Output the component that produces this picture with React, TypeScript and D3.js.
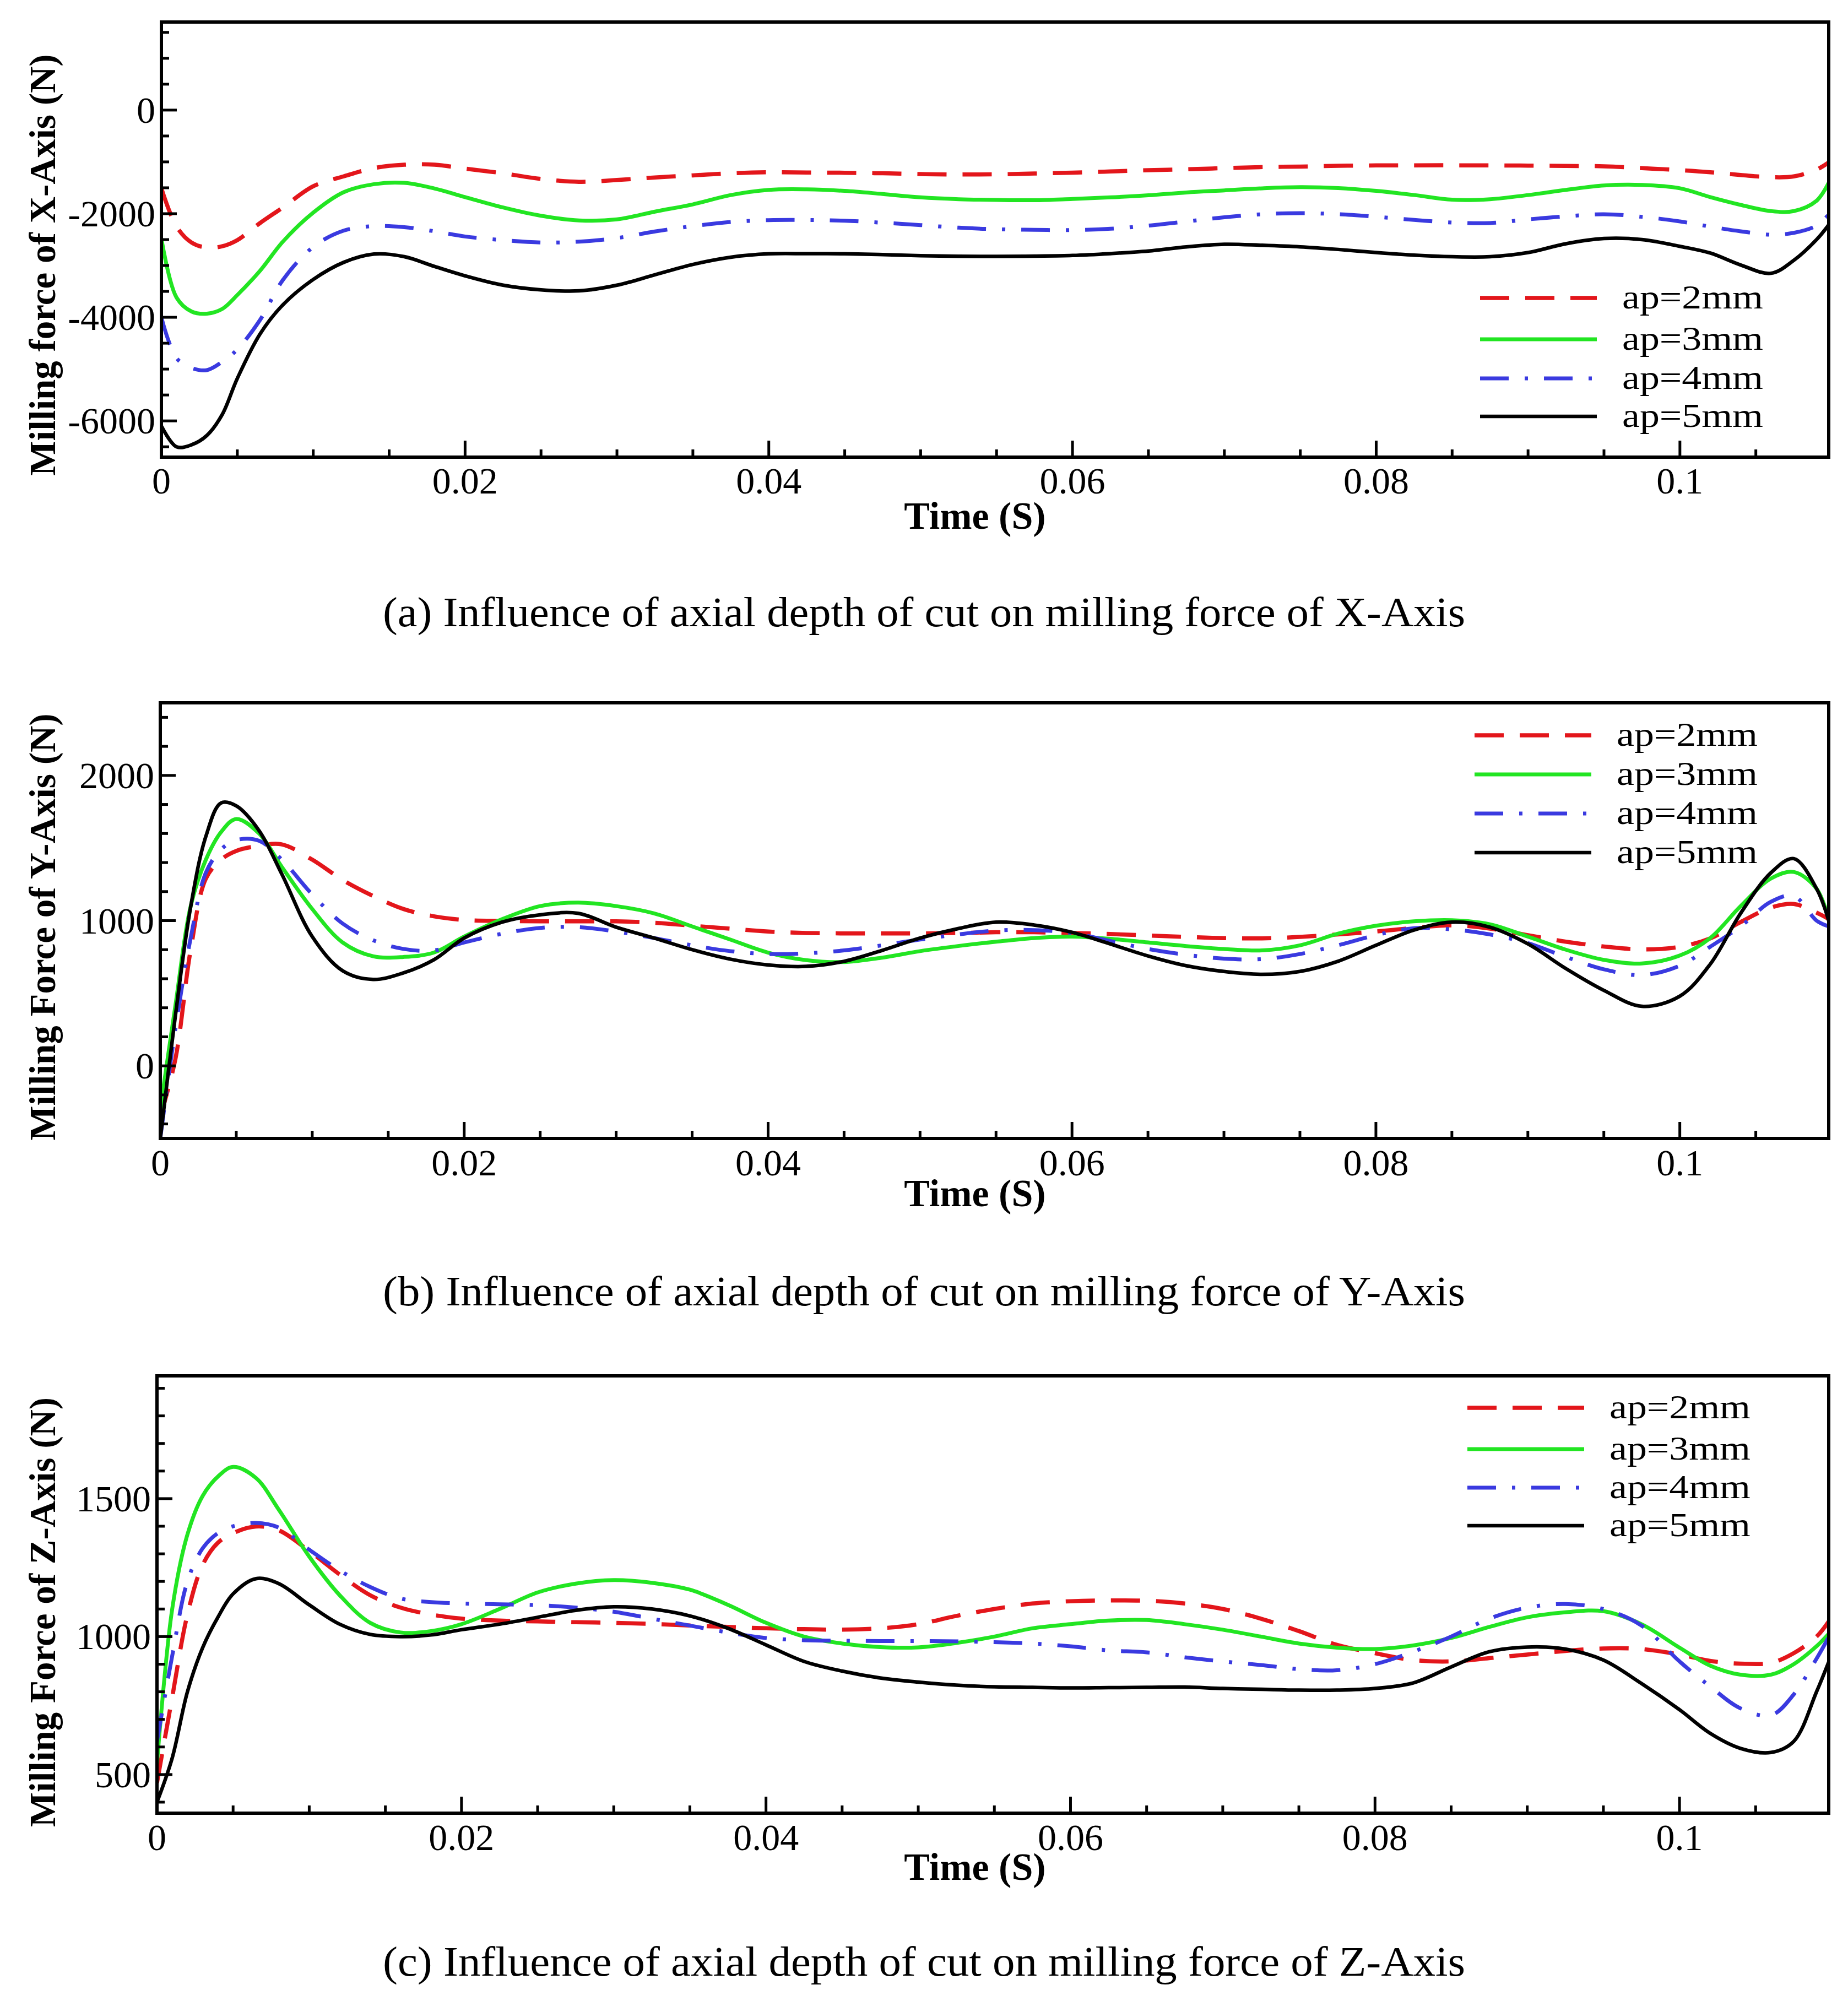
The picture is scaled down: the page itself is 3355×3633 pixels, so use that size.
import React from 'react';
import * as d3 from 'd3';

// shared sampling times (s)
const timeGrid = [
  0, 0.001, 0.002, 0.003, 0.004, 0.005, 0.0065, 0.008, 0.01, 0.012, 0.014, 0.016, 0.018, 0.02,
  0.0225, 0.025, 0.0275, 0.03, 0.0325, 0.035, 0.0375, 0.04, 0.0425, 0.045, 0.0475, 0.05,
  0.0525, 0.055, 0.0575, 0.06, 0.0625, 0.065, 0.0675, 0.07, 0.0725, 0.075, 0.0775, 0.08,
  0.0825, 0.085, 0.0875, 0.09, 0.0925, 0.095, 0.0975, 0.1, 0.102, 0.104, 0.106, 0.1075, 0.109, 0.1098,
];

// (a) X-axis milling force (N)
const xForceAp2 = [
  -1510, -2250, -2560, -2655, -2630, -2510, -2180, -1880, -1470, -1280, -1120, -1055, -1055, -1130,
  -1220, -1330, -1385, -1350, -1300, -1260, -1220, -1200, -1205, -1210, -1220, -1235,
  -1243, -1240, -1225, -1208, -1185, -1160, -1142, -1120, -1100, -1090, -1075, -1068,
  -1066, -1066, -1068, -1072, -1078, -1085, -1120, -1160, -1200, -1253, -1295, -1280, -1150, -1010,
];
const xForceAp3 = [
  -2480, -3620, -3890, -3930, -3840, -3570, -3100, -2540, -1980, -1586, -1430, -1405, -1515, -1680,
  -1880, -2040, -2130, -2110, -1960, -1820, -1640, -1540, -1530, -1560, -1620, -1685,
  -1720, -1735, -1740, -1715, -1685, -1645, -1590, -1550, -1510, -1488, -1505, -1560,
  -1640, -1730, -1720, -1640, -1540, -1455, -1445, -1510, -1680, -1830, -1950, -1950, -1750, -1404,
];
const xForceAp4 = [
  -4000, -4790, -4980, -5020, -4860, -4620, -4050, -3280, -2640, -2327, -2240, -2260, -2340, -2440,
  -2510, -2555, -2540, -2470, -2344, -2240, -2160, -2125, -2122, -2135, -2175, -2220,
  -2270, -2300, -2312, -2316, -2290, -2230, -2150, -2070, -2010, -1990, -2010, -2060,
  -2120, -2170, -2180, -2110, -2050, -2010, -2060, -2150, -2250, -2340, -2405, -2370, -2230, -2015,
];
const xForceAp5 = [
  -6100, -6500, -6460, -6280, -5880, -5180, -4320, -3760, -3270, -2940, -2780, -2830, -3020, -3200,
  -3380, -3470, -3490, -3380, -3180, -2980, -2840, -2775, -2772, -2775, -2790, -2810,
  -2822, -2825, -2818, -2806, -2770, -2720, -2640, -2590, -2610, -2640, -2690, -2750,
  -2800, -2830, -2830, -2750, -2580, -2480, -2500, -2630, -2760, -2990, -3150, -2900, -2500, -2216,
];

// (b) Y-axis milling force (N)
const yForceAp2 = [
  -350, 50, 800, 1290, 1420, 1480, 1515, 1525, 1420, 1280, 1170, 1080, 1030, 1005,
  998, 995, 995, 995, 985, 965, 945, 925, 915, 912, 912, 912,
  915, 920, 920, 915, 908, 898, 888, 880, 878, 888, 905, 925,
  950, 968, 945, 900, 855, 822, 802, 820, 878, 990, 1090, 1115, 1055, 1011,
];
const yForceAp3 = [
  -300, 420, 1100, 1420, 1610, 1700, 1600, 1370, 1080, 850, 755, 750, 780, 890,
  1010, 1100, 1124, 1100, 1050, 960, 870, 780, 728, 715, 745, 790,
  825, 855, 880, 890, 875, 850, 825, 805, 795, 830, 910, 965,
  995, 1003, 975, 890, 800, 730, 705, 760, 880, 1100, 1290, 1335, 1220, 1011,
];
const yForceAp4 = [
  -500, 260, 880, 1330, 1490, 1555, 1550, 1420, 1180, 980, 865, 805, 795, 850,
  910, 950, 955, 925, 880, 830, 790, 770, 775, 795, 830, 870,
  905, 932, 935, 915, 860, 805, 765, 738, 735, 770, 830, 900,
  948, 940, 905, 845, 750, 665, 625, 690, 820, 960, 1130, 1170, 1000, 960,
];
const yForceAp5 = [
  -500, 350, 1095, 1580, 1810, 1790, 1620, 1320, 890, 655, 595, 640, 730, 880,
  990, 1040, 1050, 955, 880, 800, 735, 695, 685, 720, 795, 880,
  945, 990, 970, 920, 840, 757, 690, 650, 630, 650, 720, 830,
  935, 990, 955, 840, 670, 520, 410, 480, 700, 1050, 1330, 1427, 1220, 1000,
];

// (c) Z-axis milling force (N)
const zForceAp2 = [
  470, 780, 1080, 1260, 1340, 1375, 1399, 1385, 1310, 1225, 1150, 1105, 1080, 1065,
  1058, 1055, 1052, 1050, 1046, 1040, 1035, 1030, 1027, 1025, 1030, 1045,
  1075, 1100, 1120, 1128, 1131, 1130, 1120, 1100, 1065, 1020, 970, 940,
  915, 910, 922, 935, 948, 957, 955, 935, 912, 902, 905, 940, 1000, 1055,
];
const zForceAp3 = [
  540, 1100, 1370, 1510, 1580, 1615, 1575, 1460, 1290, 1150, 1050, 1015, 1020, 1045,
  1100, 1160, 1192, 1205, 1195, 1170, 1115, 1050, 1000, 975, 962, 961,
  977, 1000, 1030, 1045, 1058, 1060, 1045, 1025, 1000, 975, 960, 955,
  968, 995, 1035, 1070, 1088, 1092, 1045, 960, 895, 862, 862, 900, 965, 1010,
];
const zForceAp4 = [
  620, 930, 1200, 1320, 1375, 1400, 1412, 1395, 1315, 1240, 1180, 1138, 1125, 1120,
  1117, 1114, 1105, 1090, 1065, 1040, 1015, 995, 987, 985, 984, 984,
  983, 980, 975, 965, 950, 943, 925, 910, 897, 882, 878, 900,
  945, 1000, 1065, 1105, 1118, 1100, 1040, 910, 820, 740, 715, 790, 920, 998,
];
const zForceAp5 = [
  400, 560, 800, 960, 1070, 1155, 1210, 1192, 1115, 1045, 1008, 1000, 1006, 1025,
  1045, 1070, 1095, 1108, 1100, 1075, 1030, 970, 910, 875, 850, 835,
  824, 818, 816, 814, 815, 816, 817, 812, 809, 806, 806, 812,
  832, 890, 945, 962, 955, 915, 830, 735, 650, 595, 580, 620, 800, 908,
];

const seriesLabels = ['ap=2mm', 'ap=3mm', 'ap=4mm', 'ap=5mm'];
const xTickValues = [0, 0.02, 0.04, 0.06, 0.08, 0.1];
const xTickLabels = ['0', '0.02', '0.04', '0.06', '0.08', '0.1'];
const yTicksX = [-6000, -4000, -2000, 0];
const yTicksY = [0, 1000, 2000];
const yTicksZ = [500, 1000, 1500];

const SERIF = '"Liberation Serif", "Times New Roman", Times, serif';
const lineStyles = [
  { color: '#e3161b', dash: '53 29', width: 7.5 },
  { color: '#22e522', dash: undefined, width: 7 },
  { color: '#3a3ae0', dash: '52 29 6 29', width: 7 },
  { color: '#000000', dash: undefined, width: 6.5 },
];

interface PanelProps {
  id: string;
  series: number[][];
  left: number;
  right: number;
  top: number;
  bottom: number;
  yDomain: [number, number];
  yTicks: number[];
  yMinorStep: number;
  yTitle: string;
  yTitleCenter: number;
  tickBaseline: number;
  xTitleBaseline: number;
  caption: string;
  captionBaseline: number;
  legendRows: number[];
  legendX: number;
}

const Panel: React.FC<PanelProps> = (p) => {
  const x = d3.scaleLinear().domain([0, 0.1098]).range([p.left, p.right]);
  const y = d3.scaleLinear().domain(p.yDomain).range([p.bottom, p.top]);
  const line = d3
    .line<number>()
    .x((_, i) => x(timeGrid[i]))
    .y((d) => y(d))
    .curve(d3.curveCatmullRom.alpha(0.5));

  const xMinor = d3.range(0, 0.1098, 0.005).filter((t) => Math.abs(t / 0.02 - Math.round(t / 0.02)) > 1e-6);
  const yStart = Math.ceil(p.yDomain[0] / p.yMinorStep) * p.yMinorStep;
  const yMinor = d3.range(yStart, p.yDomain[1], p.yMinorStep).filter((v) => !p.yTicks.includes(Math.round(v)));

  return (
    <g>
      <defs>
        <clipPath id={`clip-${p.id}`}>
          <rect x={p.left} y={p.top} width={p.right - p.left} height={p.bottom - p.top} />
        </clipPath>
      </defs>

      <g clipPath={`url(#clip-${p.id})`} fill="none" strokeLinejoin="round">
        {p.series.map((vals, i) => (
          <path
            key={i}
            d={line(vals) || ''}
            stroke={lineStyles[i].color}
            strokeWidth={lineStyles[i].width}
            strokeDasharray={lineStyles[i].dash}
          />
        ))}
      </g>

      {/* ticks, pointing inward */}
      <g stroke="#000" strokeWidth={5}>
        {xTickValues.map((t) => (
          <line key={`xm${t}`} x1={x(t)} x2={x(t)} y1={p.bottom} y2={p.bottom - 30} />
        ))}
        {xMinor.map((t) => (
          <line key={`xn${t}`} x1={x(t)} x2={x(t)} y1={p.bottom} y2={p.bottom - 14} />
        ))}
        {p.yTicks.map((v) => (
          <line key={`ym${v}`} x1={p.left} x2={p.left + 28} y1={y(v)} y2={y(v)} />
        ))}
        {yMinor.map((v) => (
          <line key={`yn${v}`} x1={p.left} x2={p.left + 14} y1={y(v)} y2={y(v)} />
        ))}
      </g>

      <rect
        x={p.left}
        y={p.top}
        width={p.right - p.left}
        height={p.bottom - p.top}
        fill="none"
        stroke="#000"
        strokeWidth={6}
      />

      {/* tick labels */}
      <g fontFamily={SERIF} fontSize={68} fill="#000">
        {xTickValues.map((t, i) => (
          <text key={t} x={x(t)} y={p.tickBaseline} textAnchor="middle">
            {xTickLabels[i]}
          </text>
        ))}
        {p.yTicks.map((v) => (
          <text key={v} x={p.left - 11} y={y(v) + 23} textAnchor="end">
            {String(v)}
          </text>
        ))}
      </g>

      {/* axis titles */}
      <text
        x={1770}
        y={p.xTitleBaseline}
        textAnchor="middle"
        fontFamily={SERIF}
        fontWeight="bold"
        fontSize={70}
      >
        Time (S)
      </text>
      <text
        transform={`translate(100, ${p.yTitleCenter}) rotate(-90)`}
        textAnchor="middle"
        fontFamily={SERIF}
        fontWeight="bold"
        fontSize={67}
      >
        {p.yTitle}
      </text>

      {/* legend */}
      <g>
        {seriesLabels.map((label, i) => (
          <g key={label}>
            <line
              x1={p.legendX}
              x2={p.legendX + 212}
              y1={p.legendRows[i]}
              y2={p.legendRows[i]}
              stroke={lineStyles[i].color}
              strokeWidth={lineStyles[i].width}
              strokeDasharray={lineStyles[i].dash}
            />
            <text
              x={p.legendX + 258}
              y={p.legendRows[i] + 19}
              fontFamily={SERIF}
              fontSize={62}
              textLength={256}
              lengthAdjust="spacingAndGlyphs"
            >
              {label}
            </text>
          </g>
        ))}
      </g>

      {/* caption */}
      <text
        x={695}
        y={p.captionBaseline}
        fontFamily={SERIF}
        fontSize={76}
        textLength={1965}
        lengthAdjust="spacingAndGlyphs"
      >
        {p.caption}
      </text>
    </g>
  );
};

export default function App() {
  return (
    <svg
      width={3355}
      height={3633}
      viewBox="0 0 3355 3633"
      style={{ position: 'absolute', left: 0, top: 0, background: '#fff' }}
    >
      <rect width={3355} height={3633} fill="#fff" />
      <Panel
        id="a"
        series={[xForceAp2, xForceAp3, xForceAp4, xForceAp5]}
        left={293}
        right={3320}
        top={40}
        bottom={830}
        yDomain={[-6700, 1700]}
        yTicks={yTicksX}
        yMinorStep={500}
        yTitle="Milling force of X-Axis (N)"
        yTitleCenter={481}
        tickBaseline={896}
        xTitleBaseline={960}
        caption="(a) Influence of axial depth of cut on milling force of X-Axis"
        captionBaseline={1137}
        legendRows={[541, 616, 687, 756]}
        legendX={2687}
      />
      <Panel
        id="b"
        series={[yForceAp2, yForceAp3, yForceAp4, yForceAp5]}
        left={291}
        right={3320}
        top={1276}
        bottom={2067}
        yDomain={[-500, 2500]}
        yTicks={yTicksY}
        yMinorStep={200}
        yTitle="Milling Force of Y-Axis (N)"
        yTitleCenter={1683}
        tickBaseline={2134}
        xTitleBaseline={2190}
        caption="(b) Influence of axial depth of cut on milling force of Y-Axis"
        captionBaseline={2370}
        legendRows={[1335, 1406, 1477, 1548]}
        legendX={2677}
      />
      <Panel
        id="c"
        series={[zForceAp2, zForceAp3, zForceAp4, zForceAp5]}
        left={285}
        right={3320}
        top={2498}
        bottom={3292}
        yDomain={[360, 1945]}
        yTicks={yTicksZ}
        yMinorStep={100}
        yTitle="Milling Force of Z-Axis (N)"
        yTitleCenter={2927}
        tickBaseline={3359}
        xTitleBaseline={3413}
        caption="(c) Influence of axial depth of cut on milling force of Z-Axis"
        captionBaseline={3587}
        legendRows={[2556, 2631, 2701, 2770]}
        legendX={2664}
      />
    </svg>
  );
}
